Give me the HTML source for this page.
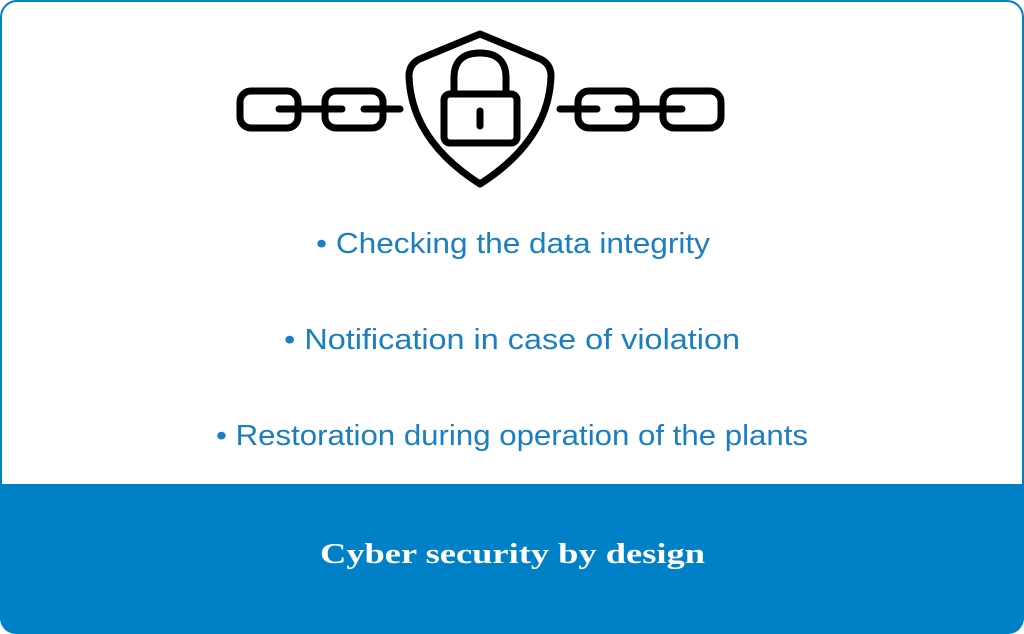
<!DOCTYPE html>
<html><head><meta charset="utf-8"><style>html,body{margin:0;padding:0;background:#fff}svg{display:block}</style></head>
<body>
<svg width="1024" height="634" viewBox="0 0 1024 634" xmlns="http://www.w3.org/2000/svg">
<defs><clipPath id="c"><rect x="0" y="0" width="1024" height="634" rx="16"/></clipPath></defs>
<rect x="1" y="1" width="1022" height="632" rx="16" fill="#fff" stroke="#0080c6" stroke-width="2"/>
<rect x="0" y="484" width="1024" height="150" fill="#0080c6" clip-path="url(#c)"/>
<g fill="none" stroke="#000" stroke-width="7" stroke-linecap="round" stroke-linejoin="round">
<path d="M480 34 L538 58 Q551 63 551 76 Q549 140 480 184 Q411 140 409 76 Q409 63 422 58 Z"/>
<path d="M454 94 L454 78 Q454 53 480 53 Q506 53 506 78 L506 94"/>
<rect x="444" y="94" width="73" height="49" rx="6"/>
<line x1="480" y1="111" x2="480" y2="126"/>
<rect x="240" y="91" width="58" height="37" rx="11"/>
<rect x="325" y="91" width="58" height="37" rx="11"/>
<rect x="578" y="91" width="58" height="37" rx="11"/>
<rect x="663" y="91" width="58" height="37" rx="11"/>
<line x1="279" y1="109" x2="342" y2="109"/>
<line x1="364" y1="109" x2="400" y2="109"/>
<line x1="560" y1="109" x2="597" y2="109"/>
<line x1="618" y1="109" x2="682" y2="109"/>
</g>
<g fill="#1a7fc1" font-family="'Liberation Sans', sans-serif" font-size="29">
<text x="316" y="253" textLength="394" lengthAdjust="spacingAndGlyphs">• Checking the data integrity</text>
<text x="284" y="349" textLength="456" lengthAdjust="spacingAndGlyphs">• Notification in case of violation</text>
<text x="216" y="445" textLength="592" lengthAdjust="spacingAndGlyphs">• Restoration during operation of the plants</text>
</g>
<text x="320" y="563" fill="#fff" font-family="'Liberation Serif', serif" font-weight="bold" font-size="28" textLength="385" lengthAdjust="spacingAndGlyphs">Cyber security by design</text>
</svg>
</body></html>
